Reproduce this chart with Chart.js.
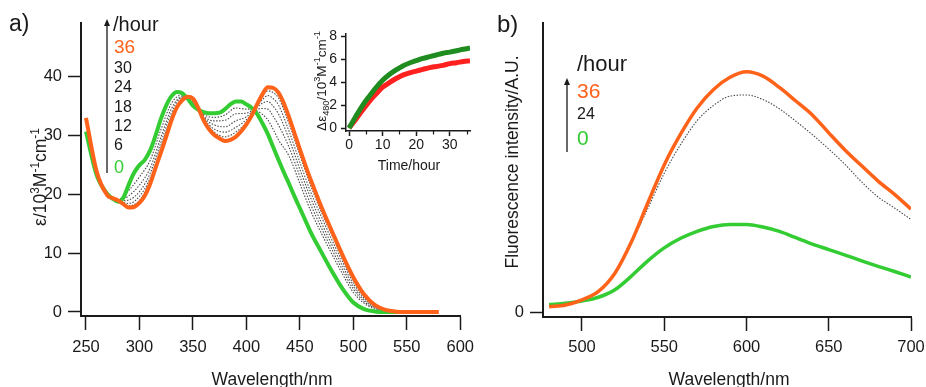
<!DOCTYPE html>
<html>
<head>
  <meta charset="utf-8">
  <title>Absorption and fluorescence spectra</title>
  <script src="https://cdn.jsdelivr.net/npm/chart.js@4.4.0/dist/chart.umd.min.js"></script>
  <style>
    html, body { margin: 0; padding: 0; background: #fff; overflow: hidden; }
    #page { position: relative; width: 926px; height: 387px; overflow: hidden; background: #fff; }
    canvas { position: absolute; top: 0; }
  </style>
</head>
<body>
  <div id="page">
    <canvas id="absChart" width="482" height="387" style="left:0px"></canvas>
    <canvas id="insetChart" width="200" height="190" style="left:290px"></canvas>
    <canvas id="fluoChart" width="470" height="387" style="left:470px"></canvas>
  </div>

  <script>
    // a) absorption spectra (epsilon / 10^3 M^-1 cm^-1)
    const wlA = [250, 260, 270, 275, 280, 285, 290, 295, 300, 305, 310, 315, 320, 325, 330, 335, 340, 345, 350, 355,
                 360, 365, 370, 375, 380, 385, 390, 395, 400, 405, 410, 415, 420, 425, 430, 435, 440, 445, 450, 455,
                 460, 470, 480, 490, 500, 510, 520, 530, 540, 550, 560, 570, 580];
    const eps0h = [30.6, 23.2, 20.0, 19.2, 18.7, 19.4, 21.6, 23.6, 24.9, 25.8, 27.4, 29.9, 32.7, 35.0, 36.6, 37.3, 37.1, 36.2, 35.0, 34.3,
                   33.9, 33.7, 33.7, 33.8, 34.4, 35.2, 35.7, 35.7, 35.2, 34.6, 33.6, 32.0, 30.2, 28.0, 25.8, 23.7, 21.7, 19.6, 17.6, 15.6,
                   13.6, 10.2, 6.9, 3.9, 1.6, 0.5, 0.1, 0.0, 0.0, 0.0, null, null, null];
    const eps36h = [32.9, 23.8, 19.8, 19.3, 18.9, 18.3, 17.7, 17.8, 18.5, 19.7, 21.7, 24.4, 27.0, 29.7, 32.5, 34.7, 35.9, 36.5, 36.2, 34.6,
                    32.5, 31.0, 30.0, 29.4, 29.0, 29.2, 29.7, 30.6, 31.8, 33.3, 35.2, 36.9, 38.1, 38.0, 37.2, 35.4, 33.0, 30.3, 27.6, 25.0,
                    22.5, 17.9, 13.7, 9.6, 5.9, 3.0, 1.2, 0.35, 0.06, 0, 0, 0, 0];

    // intermediate times (dotted)
    const wlDot = [280, 290, 300, 310, 320, 330, 340, 345, 350, 360, 370, 380, 390, 400, 405, 410, 415, 420, 425, 430,
                   440, 450, 460, 470, 480, 490, 500, 510, 520, 530, 540];
    const eps6h  = [18.8, 20.6, 22.9, 25.7, 30.9, 35.4, 36.8, 36.3, 35.3, 33.5, 33.0, 33.4, 34.6, 34.4, 34.4, 34.1, 33.5, 32.6, 31.0, 29.2,
                    26.4, 21.8, 17.2, 13.4, 9.8, 6.4, 3.3, 1.5, 0.5, 0.13, 0.02];
    const eps12h = [18.8, 19.7, 21.5, 24.4, 29.6, 34.5, 36.5, 36.4, 35.5, 33.2, 32.4, 32.5, 33.6, 33.7, 34.1, 34.4, 34.5, 34.4, 33.2, 31.7,
                    27.9, 23.0, 18.3, 14.3, 10.6, 7.1, 3.9, 1.8, 0.65, 0.17, 0.03];
    const eps18h = [18.8, 19.0, 20.4, 23.5, 28.7, 33.8, 36.4, 36.4, 35.7, 33.0, 31.7, 31.4, 32.4, 33.1, 33.9, 34.7, 35.4, 35.7, 34.9, 33.6,
                    29.3, 24.2, 19.4, 15.2, 11.4, 7.8, 4.4, 2.1, 0.8, 0.2, 0.03];
    const eps24h = [18.9, 18.4, 19.6, 22.7, 27.9, 33.2, 36.2, 36.5, 35.8, 32.8, 31.0, 30.5, 31.3, 32.6, 33.6, 34.9, 36.0, 36.7, 36.2, 35.1,
                    30.6, 25.4, 20.4, 16.2, 12.2, 8.5, 4.9, 2.4, 0.95, 0.25, 0.04];
    const eps30h = [18.9, 18.0, 18.9, 22.2, 27.4, 32.8, 36.1, 36.5, 35.9, 32.6, 30.5, 29.7, 30.5, 32.1, 33.4, 35.1, 36.5, 37.5, 37.2, 36.3,
                    31.9, 26.6, 21.5, 17.0, 13.0, 9.1, 5.4, 2.7, 1.1, 0.3, 0.05];

    // inset: delta epsilon at 480 nm vs time
    const hours = [0, 2, 4, 6, 8, 10, 12, 14, 16, 18, 20, 22, 24, 26, 28, 30, 32, 34, 36];
    const dEpsGreen = [0, 1.0, 1.95, 2.75, 3.5, 4.15, 4.65, 5.05, 5.4, 5.65, 5.85, 6.05, 6.2, 6.35, 6.5, 6.6, 6.72, 6.85, 6.95];
    const dEpsRed   = [0, 0.75, 1.55, 2.3, 2.95, 3.55, 3.95, 4.3, 4.6, 4.8, 4.95, 5.1, 5.25, 5.35, 5.45, 5.6, 5.68, 5.78, 5.86];

    // b) fluorescence spectra (arbitrary units)
    const wlB = [480, 490, 500, 510, 520, 530, 540, 550, 560, 570, 580, 590, 600, 610, 620, 630, 640, 650, 660, 670, 680, 690, 700];
    const fl0h  = [2.6, 3.0, 3.8, 5.1, 7.7, 12.4, 17.7, 22.2, 25.5, 27.9, 29.6, 30.3, 30.3, 29.4, 27.9, 25.7, 23.5, 21.6, 19.7, 17.7, 15.8, 14.0, 12.1];
    const fl24h = [null, null, null, null, 13.3, 24.0, 35.8, 48.0, 58.0, 66.2, 71.5, 74.7, 75.1, 73.5, 70.3, 66.0, 61.4, 56.4, 51.0, 45.0, 39.8, 36.0, 32.0];
    const fl36h = [1.8, 2.4, 4.2, 7.1, 13.4, 24.2, 37.7, 50.9, 61.6, 70.6, 77.0, 81.2, 83.1, 81.6, 77.7, 73.0, 68.2, 62.0, 56.0, 50.6, 45.3, 40.7, 35.6];

    // tick labels
    const absWlTicks = [250, 300, 350, 400, 450, 500, 550, 600];
    const absEpsTicks = [0, 10, 20, 30, 40];
    const timeTicks = [0, 10, 20, 30];
    const timeMinorTicks = [5, 15, 25, 35];
    const dEpsTicks = [0, 2, 4, 6, 8];
    const fluoWlTicks = [500, 550, 600, 650, 700];
    const fluoTicks = [0];
    const absLegendHours = ['30', '24', '18', '12', '6'];

    const FONT = "'Liberation Sans', Arial, Helvetica, sans-serif";
    const INK = '#1a1a1a';
    const ORANGE = '#ff6219';
    const GREEN = '#33cc33';
    const DOT = '#4a4a4a';

    function points(xs, ys) {
      return xs.map((x, i) => ({ x: x, y: ys[i] })).filter(p => p.y !== null);
    }

    function line(data, color, width, dash) {
      return {
        data: data,
        borderColor: color,
        borderWidth: width,
        borderDash: dash || [],
        pointRadius: 0,
        fill: false,
        cubicInterpolationMode: 'monotone'
      };
    }

    function axis(min, max, values, o) {
      return {
        type: 'linear',
        min: min,
        max: max,
        afterBuildTicks: s => { s.ticks = values.map(v => ({ value: v })); },
        afterFit: s => {
          if (o.width) s.width = o.width;
          if (o.height) s.height = o.height;
        },
        border: { display: true, color: INK, width: o.border || 2 },
        grid: { display: true, drawOnChartArea: false, drawTicks: true, tickLength: o.tickLength, tickWidth: 1.5, tickColor: INK },
        ticks: {
          color: INK, padding: o.pad, autoSkip: false, maxRotation: 0,
          font: { family: FONT, size: o.font },
          callback: v => String(v)
        }
      };
    }

    // text with super/subscripts, centered on (x, y)
    function richText(ctx, x, y, parts, size, rotate) {
      const small = size * 0.68;
      ctx.save();
      ctx.translate(x, y);
      if (rotate) ctx.rotate(rotate);
      ctx.fillStyle = INK;
      ctx.textAlign = 'left';
      ctx.textBaseline = 'alphabetic';
      const widths = parts.map(p => {
        ctx.font = (p[1] === 'n' ? size : small) + 'px ' + FONT;
        return ctx.measureText(p[0]).width;
      });
      let cx = -widths.reduce((a, b) => a + b, 0) / 2;
      parts.forEach((p, i) => {
        ctx.font = (p[1] === 'n' ? size : small) + 'px ' + FONT;
        const dy = p[1] === 'sup' ? -size * 0.42 : (p[1] === 'sub' ? size * 0.22 : 0);
        ctx.fillText(p[0], cx, size * 0.36 + dy);
        cx += widths[i];
      });
      ctx.restore();
    }

    function text(ctx, s, x, y, size, color, align) {
      ctx.save();
      ctx.font = size + 'px ' + FONT;
      ctx.fillStyle = color || INK;
      ctx.textAlign = align || 'left';
      ctx.textBaseline = 'middle';
      ctx.fillText(s, x, y);
      ctx.restore();
    }

    function upArrow(ctx, x, yBottom, yTip) {
      ctx.save();
      ctx.strokeStyle = INK;
      ctx.fillStyle = INK;
      ctx.lineWidth = 1.3;
      ctx.beginPath();
      ctx.moveTo(x, yBottom);
      ctx.lineTo(x, yTip + 5);
      ctx.stroke();
      ctx.beginPath();
      ctx.moveTo(x, yTip);
      ctx.lineTo(x - 3, yTip + 7);
      ctx.lineTo(x + 3, yTip + 7);
      ctx.closePath();
      ctx.fill();
      ctx.restore();
    }

    const baseOptions = {
      responsive: false,
      animation: false,
      devicePixelRatio: 1,
      plugins: { legend: { display: false }, tooltip: { enabled: false } },
      elements: { point: { radius: 0 } }
    };

    // ---- panel a ----
    new Chart(document.getElementById('absChart'), {
      type: 'line',
      data: {
        datasets: [
          line(points(wlA, eps36h), ORANGE, 4),
          line(points(wlA, eps0h), GREEN, 4),
          line(points(wlDot, eps30h), DOT, 1.1, [1.5, 1.5]),
          line(points(wlDot, eps24h), DOT, 1.1, [1.5, 1.5]),
          line(points(wlDot, eps18h), DOT, 1.1, [1.5, 1.5]),
          line(points(wlDot, eps12h), DOT, 1.1, [1.5, 1.5]),
          line(points(wlDot, eps6h), DOT, 1.1, [1.5, 1.5])
        ]
      },
      options: Object.assign({}, baseOptions, {
        layout: { padding: { top: 23, right: 20, bottom: 0, left: 0 } },
        scales: {
          x: axis(245.35, 600, absWlTicks, { height: 71, tickLength: 14, pad: 8, font: 16.5 }),
          y: axis(-0.68, 49, absEpsTicks, { width: 81, tickLength: 13, pad: 6, font: 16.5 })
        }
      }),
      plugins: [{
        id: 'absNotes',
        afterDraw(chart) {
          const ctx = chart.ctx;
          text(ctx, 'a)', 9, 25, 23);
          richText(ctx, 272, 379, [['Wavelength/nm', 'n']], 17.5);
          richText(ctx, 40, 177, [['ε/10', 'n'], ['3', 'sup'], ['M', 'n'], ['-1', 'sup'], ['cm', 'n'], ['-1', 'sup']], 17.5, -Math.PI / 2);
          upArrow(ctx, 107, 173, 19);
          text(ctx, '/hour', 113, 25, 20);
          text(ctx, '36', 114, 48, 19, ORANGE);
          const ys = [69, 88, 108, 127, 146];
          absLegendHours.forEach((h, i) => text(ctx, h, 114, ys[i], 16));
          text(ctx, '0', 114, 168, 18, GREEN);
        }
      }]
    });

    // ---- inset ----
    new Chart(document.getElementById('insetChart'), {
      type: 'line',
      data: {
        datasets: [
          line(points(hours, dEpsGreen), '#1e8c1e', 5),
          line(points(hours, dEpsRed), '#ff2020', 5)
        ]
      },
      options: Object.assign({}, baseOptions, {
        layout: { padding: { top: 33.7, right: 20, bottom: 0, left: 0 } },
        scales: {
          x: axis(-0.9, 36, timeTicks, { height: 59, tickLength: 5, pad: 1, font: 14, border: 1.5 }),
          y: axis(-0.26, 8.2, dEpsTicks, { width: 56, tickLength: 5, pad: 4, font: 14, border: 1.5 })
        }
      }),
      plugins: [{
        id: 'insetNotes',
        afterDraw(chart) {
          const ctx = chart.ctx;
          const xs = chart.scales.x;
          const b = chart.chartArea.bottom;
          ctx.save();
          ctx.strokeStyle = INK;
          ctx.lineWidth = 1.2;
          timeMinorTicks.forEach(v => {
            const px = Math.round(xs.getPixelForValue(v)) + 0.5;
            ctx.beginPath();
            ctx.moveTo(px, b);
            ctx.lineTo(px, b + 3.5);
            ctx.stroke();
          });
          ctx.restore();
          ctx.save();
          ctx.translate(-290, 0);
          richText(ctx, 409, 165, [['Time/hour', 'n']], 14);
          richText(ctx, 321, 81, [['Δε', 'n'], ['480', 'sub'], ['/10', 'n'], ['3', 'sup'], ['M', 'n'], ['-1', 'sup'], ['cm', 'n'], ['-1', 'sup']], 13.5, -Math.PI / 2);
          ctx.restore();
        }
      }]
    });

    // ---- panel b ----
    new Chart(document.getElementById('fluoChart'), {
      type: 'line',
      data: {
        datasets: [
          line(points(wlB, fl36h), ORANGE, 3.5),
          line(points(wlB, fl0h), GREEN, 3.5),
          line(points(wlB, fl24h), DOT, 1.1, [1.5, 1.5])
        ]
      },
      options: Object.assign({}, baseOptions, {
        layout: { padding: { top: 23, right: 29, bottom: 0, left: 0 } },
        scales: {
          x: axis(476.3, 700, fluoWlTicks, { height: 70, tickLength: 14, pad: 7, font: 16.5 }),
          y: axis(-1.73, 100, fluoTicks, { width: 73, tickLength: 13, pad: 6, font: 16.5 })
        }
      }),
      plugins: [{
        id: 'fluoNotes',
        afterDraw(chart) {
          const ctx = chart.ctx;
          ctx.save();
          ctx.translate(-470, 0);
          text(ctx, 'b)', 497, 25, 24);
          richText(ctx, 729, 379, [['Wavelength/nm', 'n']], 17.5);
          richText(ctx, 512, 162, [['Fluorescence intensity/A.U.', 'n']], 17.5, -Math.PI / 2);
          upArrow(ctx, 567, 152, 78);
          text(ctx, '/hour', 577, 65, 22);
          text(ctx, '36', 577, 92, 21, ORANGE);
          text(ctx, '24', 577, 115, 16);
          text(ctx, '0', 577, 139, 21, GREEN);
          ctx.restore();
        }
      }]
    });
  </script>
</body>
</html>
